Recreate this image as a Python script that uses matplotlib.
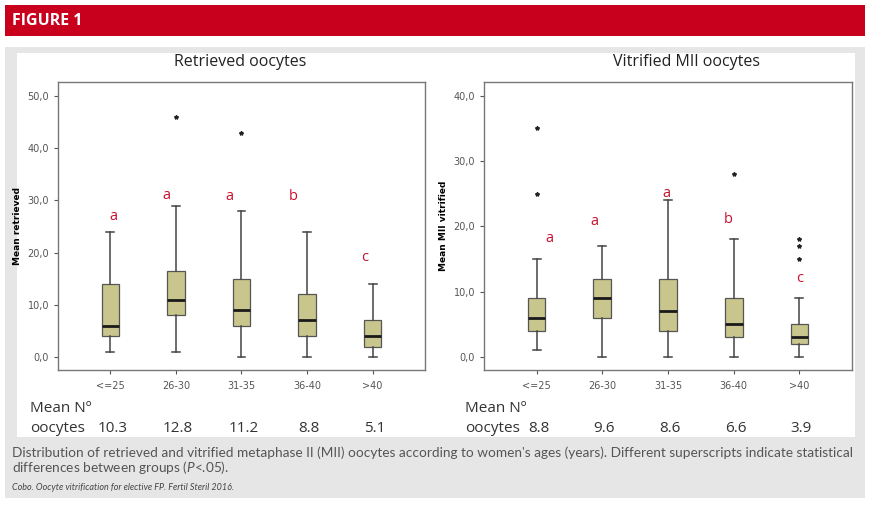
import matplotlib.pyplot as plt
from matplotlib.patches import Rectangle

# age groups and the two panels
groups = ["<=25", "26-30", "31-35", "36-40", ">40"]

# retrieved oocytes: whisker low, Q1, median, Q3, whisker high
ret_low = [1, 1, 0, 0, 0]
ret_q1 = [4, 8, 6, 4, 2]
ret_med = [6, 11, 9, 7, 4]
ret_q3 = [14, 16.5, 15, 12, 7]
ret_high = [24, 29, 28, 24, 14]
ret_out = [[], [46], [43], [], []]
ret_letters = ["a", "a", "a", "b", "c"]
ret_letter_y = [27, 31, 30.7, 30.7, 19]
ret_means = ["10.3", "12.8", "11.2", "8.8", "5.1"]

# vitrified MII oocytes
vit_low = [1, 0, 0, 0, 0]
vit_q1 = [4, 6, 4, 3, 2]
vit_med = [6, 9, 7, 5, 3]
vit_q3 = [9, 12, 12, 9, 5]
vit_high = [15, 17, 24, 18, 9]
vit_out = [[25, 35], [], [], [28], [15, 17, 18]]
vit_letters = ["a", "a", "a", "b", "c"]
vit_letter_y = [18.2, 20.7, 25, 21, 12]
vit_means = ["8.8", "9.6", "8.6", "6.6", "3.9"]

# small sideways shift of each letter from its box (in category units)
ret_letter_dx = [0.05, -0.15, -0.18, -0.21, -0.12]
vit_letter_dx = [0.2, -0.12, -0.03, -0.09, 0.0]

W, H = 870, 505
plt.rcParams['mathtext.fontset'] = 'custom'
plt.rcParams['mathtext.it'] = 'Lato:italic'
fig = plt.figure(figsize=(W / 100, H / 100), dpi=100)


def box(x0, y0, x1, y1):
    # pixel box (top-left origin) -> figure fraction rect
    return [x0 / W, 1 - y1 / H, (x1 - x0) / W, (y1 - y0) / H]


def add_rect(x0, y0, x1, y1, color):
    r = box(x0, y0, x1, y1)
    fig.patches.append(Rectangle((r[0], r[1]), r[2], r[3], transform=fig.transFigure,
                                 facecolor=color, edgecolor="none", zorder=-5))


add_rect(5, 5, 865, 36, "#c8001e")
add_rect(5, 47, 865, 498, "#e6e6e6")
add_rect(17, 53, 855, 437, "white")
fig.text(12 / W, 1 - 21 / H, "FIGURE 1", color="white", fontsize=11.5, fontweight="bold",
         va="center", ha="left", family=["Open Sans", "DejaVu Sans"])

fill = "#c9c68d"
num_font = ["Open Sans", "DejaVu Sans"]


def panel(rect, low, q1, med, q3, high, outs, letters, letter_y, letter_dx, ylim, yticks,
          title, ylabel, means, title_x, mean_x):
    ax = fig.add_axes(box(*rect))
    ax.set_zorder(2)
    stats = []
    for i in range(len(groups)):
        stats.append({"whislo": low[i], "q1": q1[i], "med": med[i], "q3": q3[i],
                      "whishi": high[i], "fliers": outs[i], "label": groups[i]})
    ax.bxp(stats, positions=range(len(groups)), widths=0.27, capwidths=0.12,
           patch_artist=True,
           boxprops=dict(facecolor=fill, edgecolor="#555555", linewidth=0.9),
           medianprops=dict(color="#1a1a1a", linewidth=2),
           whiskerprops=dict(color="#444444", linewidth=1.1),
           capprops=dict(color="#444444", linewidth=1.1),
           flierprops=dict(marker="*", markersize=3, markerfacecolor="#222222",
                           markeredgecolor="#222222", linestyle="none"))
    ax.set_xlim(-0.8, 4.8)
    ax.set_ylim(ylim[0], ylim[1])
    ax.set_yticks(yticks)
    ax.set_yticklabels([("%.1f" % t).replace(".", ",") for t in yticks])
    ax.tick_params(axis="both", labelsize=7, colors="#555555", length=3, width=0.8,
                   direction="out")
    ax.tick_params(axis="x", pad=5)
    for s in ax.spines.values():
        s.set_color("#777777")
        s.set_linewidth(1)
    for i, (lt, ly) in enumerate(zip(letters, letter_y)):
        ax.text(i + letter_dx[i], ly, lt, color="#c8102e", fontsize=10.5, ha="center",
                va="center", family=num_font)
    ax.set_ylabel(ylabel, fontsize=6.5, fontweight="bold", labelpad=4)
    fig.text(title_x / W, 1 - 62 / H, title, fontsize=11.5, ha="center", va="center",
             family=num_font, color="#222222")
    # mean numbers under each age group
    fig.text(mean_x / W, 1 - 409 / H, "Mean Nº", fontsize=11, ha="left", va="center",
             family=num_font, color="#333333")
    fig.text(mean_x / W, 1 - 428 / H, "oocytes", fontsize=11, ha="left", va="center",
             family=num_font, color="#333333")
    for i, m in enumerate(means):
        xp = (rect[0] + (i + 0.8) / 5.6 * (rect[2] - rect[0])) / W
        fig.text(xp + 2 / W, 1 - 428 / H, m, fontsize=11, ha="center", va="center",
                 family=num_font, color="#333333")
    return ax


panel((58, 82, 425, 370), ret_low, ret_q1, ret_med, ret_q3, ret_high, ret_out,
      ret_letters, ret_letter_y, ret_letter_dx, (-2.5, 52.7), [0, 10, 20, 30, 40, 50],
      "Retrieved oocytes", "Mean retrieved", ret_means, 240, 30)
panel((484, 82, 852, 370), vit_low, vit_q1, vit_med, vit_q3, vit_high, vit_out,
      vit_letters, vit_letter_y, vit_letter_dx, (-2, 42.1), [0, 10, 20, 30, 40],
      "Vitrified MII oocytes", "Mean MII vitrified", vit_means, 687, 465)

cap_font = ["Lato", "DejaVu Sans"]
line1 = fig.text(12 / W, 1 - 453 / H,
                 "Distribution of retrieved and vitrified metaphase II (MII) oocytes according to "
                 "women's ages (years). Different superscripts indicate statistical",
                 fontsize=9.6, color="#555555", ha="left", va="center", family=cap_font)
# shrink the first caption line so it spans the panel width like the reference
r = fig.canvas.get_renderer()
wpx = line1.get_window_extent(r).width
cap_size = 9.6 * 845 / wpx
line1.set_fontsize(cap_size)
fig.text(12 / W, 1 - 468 / H, r"differences between groups ($\mathit{P}$<.05).",
         fontsize=cap_size, color="#555555", ha="left", va="center", family=cap_font)
fig.text(12 / W, 1 - 488 / H,
         "Cobo. Oocyte vitrification for elective FP. Fertil Steril 2016.",
         fontsize=6.5, color="#444444", ha="left", va="center", style="italic",
         family=cap_font)

fig.savefig("out.png", dpi=100)
